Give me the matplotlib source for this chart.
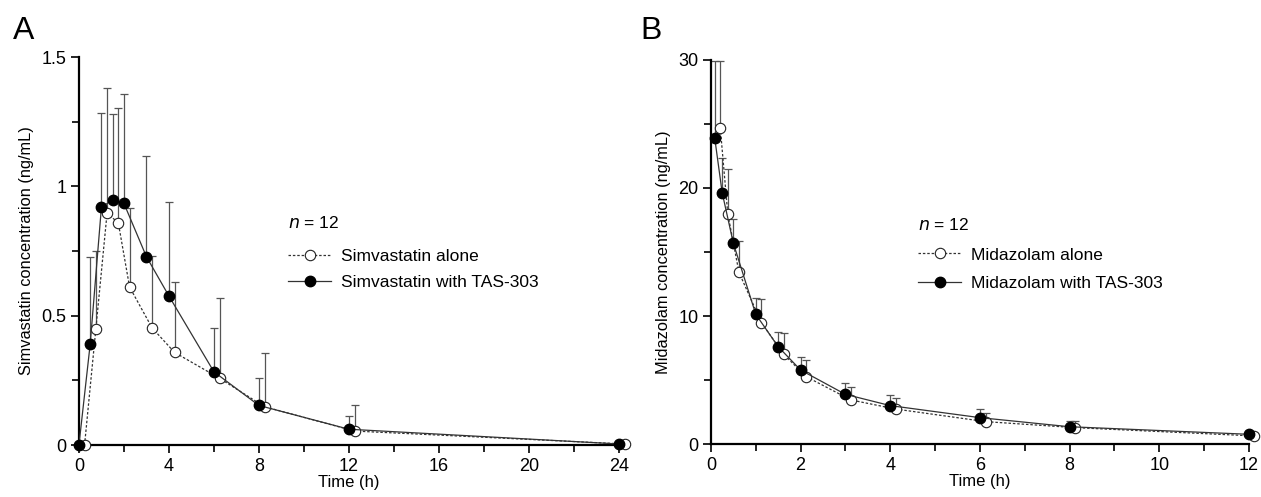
import matplotlib
matplotlib.use("Agg")
import matplotlib.pyplot as plt
from matplotlib.ticker import MultipleLocator
from matplotlib.lines import Line2D
import numpy as np

plt.rcParams['font.family'] = ['Liberation Sans', 'DejaVu Sans']

# Panel A - simvastatin (time in h, conc in ng/mL, upper SD)
simva_time = [0, 0.5, 1, 1.5, 2, 3, 4, 6, 8, 12, 24]
simva_alone = [0, 0.447, 0.896, 0.859, 0.611, 0.453, 0.358, 0.258, 0.148, 0.054, 0.004]
simva_alone_sd = [0, 0.304, 0.483, 0.442, 0.307, 0.279, 0.273, 0.310, 0.208, 0.101, 0.002]
simva_tas = [0, 0.390, 0.920, 0.947, 0.934, 0.728, 0.576, 0.283, 0.153, 0.061, 0.004]
simva_tas_sd = [0, 0.338, 0.362, 0.331, 0.423, 0.389, 0.363, 0.170, 0.105, 0.052, 0.002]

# Panel B - midazolam
mdz_time = [0.083, 0.25, 0.5, 1, 1.5, 2, 3, 4, 6, 8, 12]
mdz_alone = [24.7, 18.0, 13.41, 9.48, 7.00, 5.26, 3.44, 2.73, 1.75, 1.28, 0.63]
mdz_alone_sd = [5.2, 3.46, 2.47, 1.85, 1.67, 1.33, 1.01, 0.89, 0.70, 0.54, 0.2]
mdz_tas = [23.93, 19.64, 15.68, 10.13, 7.60, 5.78, 3.88, 3.00, 2.06, 1.35, 0.76]
mdz_tas_sd = [5.97, 2.73, 1.90, 1.25, 1.13, 1.04, 0.91, 0.83, 0.65, 0.45, 0.25]

dash = (0, (2, 1.5))


def draw_panel(ax, t, alone, alone_sd, tas, tas_sd, shift, name):
    t = np.array(t)
    ta = t + shift  # "alone" series drawn slightly to the right
    z = np.zeros(len(t))
    ax.errorbar(ta, alone, yerr=[z, alone_sd], fmt='none', ecolor='#555555',
                elinewidth=0.9, capsize=3.2, capthick=0.9, zorder=2, clip_on=False)
    ax.errorbar(t, tas, yerr=[z, tas_sd], fmt='none', ecolor='#555555',
                elinewidth=0.9, capsize=3.2, capthick=0.9, zorder=2, clip_on=False)
    ax.plot(ta, alone, ls=dash, lw=0.9, color='#333333', marker='o', ms=7.5,
            mfc='white', mec='#222222', mew=0.8, zorder=3, clip_on=False)
    ax.plot(t, tas, ls='-', lw=0.9, color='#333333', marker='o', ms=7.5,
            mfc='black', mec='black', zorder=4, clip_on=False)

    for s in ['top', 'right']:
        ax.spines[s].set_visible(False)
    for s in ['left', 'bottom']:
        ax.spines[s].set_linewidth(1.6)
    ax.tick_params(which='major', length=6, width=1.2, labelsize=13, pad=3)
    ax.tick_params(which='minor', length=5, width=1.2)
    ax.set_xlabel('Time (h)', fontsize=12, labelpad=0)
    ax.set_ylabel(name + ' concentration (ng/mL)', fontsize=11.8, labelpad=5)


def add_legend(ax, labels, x, y_n, y_leg, spacing):
    handles = [
        Line2D([], [], ls=dash, lw=0.9, color='#333333', marker='o', ms=7.5,
               mfc='white', mec='#222222', mew=0.8),
        Line2D([], [], ls='-', lw=0.9, color='#333333', marker='o', ms=7.5,
               mfc='black', mec='black'),
    ]
    ax.text(x, y_n, '$n$ = 12', transform=ax.transAxes, fontsize=12.5, va='center')
    ax.legend(handles, labels, loc='upper left', bbox_to_anchor=(x, y_leg),
              frameon=False, fontsize=12.5, borderpad=0, borderaxespad=0,
              handlelength=2.5, handletextpad=0.55, labelspacing=spacing)


fig = plt.figure(figsize=(12.61, 4.97), dpi=100)
axA = fig.add_axes([0.0626, 0.1046, 0.4282, 0.7807])
axB = fig.add_axes([0.5638, 0.1066, 0.4266, 0.7727])

draw_panel(axA, simva_time, simva_alone, simva_alone_sd, simva_tas, simva_tas_sd, 0.25, 'Simvastatin')
axA.set_xlim(0, 24)
axA.set_ylim(0, 1.5)
axA.xaxis.set_major_locator(MultipleLocator(4))
axA.xaxis.set_minor_locator(MultipleLocator(2))
axA.yaxis.set_minor_locator(MultipleLocator(0.25))
axA.set_yticks([0, 0.5, 1, 1.5])
axA.set_yticklabels(['0', '0.5', '1', '1.5'])
add_legend(axA, ['Simvastatin alone', 'Simvastatin with TAS-303'], 0.387, 0.572, 0.505, 0.6)

draw_panel(axB, mdz_time, mdz_alone, mdz_alone_sd, mdz_tas, mdz_tas_sd, 0.125, 'Midazolam')
axB.set_xlim(0, 12)
axB.set_ylim(0, 30)
axB.xaxis.set_major_locator(MultipleLocator(2))
axB.xaxis.set_minor_locator(MultipleLocator(1))
axB.yaxis.set_major_locator(MultipleLocator(10))
axB.yaxis.set_minor_locator(MultipleLocator(5))
add_legend(axB, ['Midazolam alone', 'Midazolam with TAS-303'], 0.385, 0.570, 0.512, 0.75)

fig.text(0.010, 0.922, 'A', fontsize=23)
fig.text(0.508, 0.922, 'B', fontsize=23)

fig.savefig('out.png', dpi=100)
